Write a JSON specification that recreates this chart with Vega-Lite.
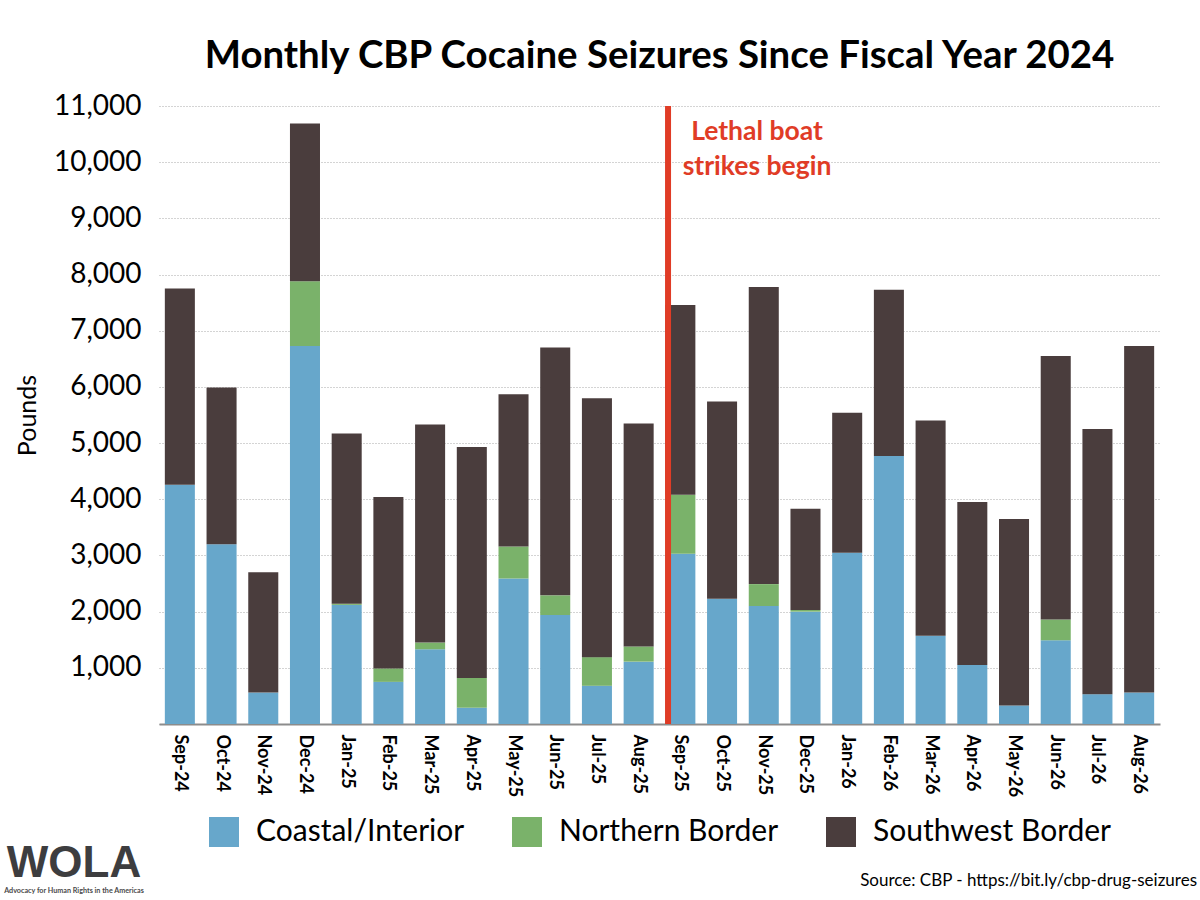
{
"$schema":"https://vega.github.io/schema/vega-lite/v6.json",
"width":1001,"height":618,
"autosize":{"type":"none"},
"padding":{"left":159,"top":106,"right":40,"bottom":176},
"background":"white",
"title":{"text":"Monthly CBP Cocaine Seizures Since Fiscal Year 2024","font":"Lato","fontSize":38.4,"fontWeight":"bold","color":"#000000","anchor":"middle","offset":16},
"config":{"view":{"stroke":null},"font":"Lato"},
"layer":[
{"layer":[
{"data":{"values":[
{"month":"Sep-24","series":"Coastal/Interior","pounds":4260},{"month":"Sep-24","series":"Northern Border","pounds":0},{"month":"Sep-24","series":"Southwest Border","pounds":3490},
{"month":"Oct-24","series":"Coastal/Interior","pounds":3200},{"month":"Oct-24","series":"Northern Border","pounds":0},{"month":"Oct-24","series":"Southwest Border","pounds":2790},
{"month":"Nov-24","series":"Coastal/Interior","pounds":560},{"month":"Nov-24","series":"Northern Border","pounds":0},{"month":"Nov-24","series":"Southwest Border","pounds":2140},
{"month":"Dec-24","series":"Coastal/Interior","pounds":6730},{"month":"Dec-24","series":"Northern Border","pounds":1150},{"month":"Dec-24","series":"Southwest Border","pounds":2810},
{"month":"Jan-25","series":"Coastal/Interior","pounds":2120},{"month":"Jan-25","series":"Northern Border","pounds":20},{"month":"Jan-25","series":"Southwest Border","pounds":3030},
{"month":"Feb-25","series":"Coastal/Interior","pounds":750},{"month":"Feb-25","series":"Northern Border","pounds":240},{"month":"Feb-25","series":"Southwest Border","pounds":3050},
{"month":"Mar-25","series":"Coastal/Interior","pounds":1330},{"month":"Mar-25","series":"Northern Border","pounds":120},{"month":"Mar-25","series":"Southwest Border","pounds":3880},
{"month":"Apr-25","series":"Coastal/Interior","pounds":290},{"month":"Apr-25","series":"Northern Border","pounds":530},{"month":"Apr-25","series":"Southwest Border","pounds":4110},
{"month":"May-25","series":"Coastal/Interior","pounds":2590},{"month":"May-25","series":"Northern Border","pounds":570},{"month":"May-25","series":"Southwest Border","pounds":2710},
{"month":"Jun-25","series":"Coastal/Interior","pounds":1940},{"month":"Jun-25","series":"Northern Border","pounds":350},{"month":"Jun-25","series":"Southwest Border","pounds":4410},
{"month":"Jul-25","series":"Coastal/Interior","pounds":680},{"month":"Jul-25","series":"Northern Border","pounds":510},{"month":"Jul-25","series":"Southwest Border","pounds":4610},
{"month":"Aug-25","series":"Coastal/Interior","pounds":1110},{"month":"Aug-25","series":"Northern Border","pounds":270},{"month":"Aug-25","series":"Southwest Border","pounds":3970},
{"month":"Sep-25","series":"Coastal/Interior","pounds":3030},{"month":"Sep-25","series":"Northern Border","pounds":1050},{"month":"Sep-25","series":"Southwest Border","pounds":3380},
{"month":"Oct-25","series":"Coastal/Interior","pounds":2230},{"month":"Oct-25","series":"Northern Border","pounds":0},{"month":"Oct-25","series":"Southwest Border","pounds":3510},
{"month":"Nov-25","series":"Coastal/Interior","pounds":2100},{"month":"Nov-25","series":"Northern Border","pounds":390},{"month":"Nov-25","series":"Southwest Border","pounds":5290},
{"month":"Dec-25","series":"Coastal/Interior","pounds":2000},{"month":"Dec-25","series":"Northern Border","pounds":30},{"month":"Dec-25","series":"Southwest Border","pounds":1800},
{"month":"Jan-26","series":"Coastal/Interior","pounds":3050},{"month":"Jan-26","series":"Northern Border","pounds":0},{"month":"Jan-26","series":"Southwest Border","pounds":2490},
{"month":"Feb-26","series":"Coastal/Interior","pounds":4770},{"month":"Feb-26","series":"Northern Border","pounds":0},{"month":"Feb-26","series":"Southwest Border","pounds":2960},
{"month":"Mar-26","series":"Coastal/Interior","pounds":1570},{"month":"Mar-26","series":"Northern Border","pounds":0},{"month":"Mar-26","series":"Southwest Border","pounds":3830},
{"month":"Apr-26","series":"Coastal/Interior","pounds":1050},{"month":"Apr-26","series":"Northern Border","pounds":0},{"month":"Apr-26","series":"Southwest Border","pounds":2900},
{"month":"May-26","series":"Coastal/Interior","pounds":330},{"month":"May-26","series":"Northern Border","pounds":0},{"month":"May-26","series":"Southwest Border","pounds":3320},
{"month":"Jun-26","series":"Coastal/Interior","pounds":1490},{"month":"Jun-26","series":"Northern Border","pounds":370},{"month":"Jun-26","series":"Southwest Border","pounds":4690},
{"month":"Jul-26","series":"Coastal/Interior","pounds":530},{"month":"Jul-26","series":"Northern Border","pounds":0},{"month":"Jul-26","series":"Southwest Border","pounds":4720},
{"month":"Aug-26","series":"Coastal/Interior","pounds":560},{"month":"Aug-26","series":"Northern Border","pounds":0},{"month":"Aug-26","series":"Southwest Border","pounds":6170}
]},
"mark":{"type":"bar"},
"encoding":{
"x":{"field":"month","type":"nominal","sort":null,"title":null,
 "scale":{"domain":["Sep-24","Oct-24","Nov-24","Dec-24","Jan-25","Feb-25","Mar-25","Apr-25","May-25","Jun-25","Jul-25","Aug-25","Sep-25","Oct-25","Nov-25","Dec-25","Jan-26","Feb-26","Mar-26","Apr-26","May-26","Jun-26","Jul-26","Aug-26"],"paddingInner":0.28,"paddingOuter":0.14},
 "axis":{"labelAngle":90,"labelAlign":"left","labelBaseline":"middle","labelFontSize":18,"labelFontWeight":"bold","labelColor":"#000000","labelPadding":10,"ticks":false,"domainColor":"#8c8c8c","domainWidth":2,"grid":false,"labelFont":"Lato"}},
"y":{"field":"pounds","type":"quantitative","stack":"zero",
 "scale":{"domain":[0,11000],"nice":false},
 "title":"Pounds",
 "axis":{"values":[0,1000,2000,3000,4000,5000,6000,7000,8000,9000,10000,11000],"labelExpr":"datum.value===0?'':format(datum.value,',')","labelFontSize":28,"labelColor":"#000000","labelPadding":18,"ticks":false,"domain":false,"grid":true,"gridColor":"#a8a8a8","gridDash":[1,2],"gridWidth":1,"titleFontSize":25,"titleFontWeight":"normal","titleColor":"#000000","titlePadding":13,"labelFont":"Lato","titleFont":"Lato"}},
"color":{"field":"series","type":"nominal","title":null,
 "scale":{"domain":["Coastal/Interior","Northern Border","Southwest Border"],"range":["#67A7CB","#7AB26A","#4A3D3D"]},
 "legend":{"orient":"none","legendX":50,"legendY":711,"direction":"horizontal","columns":3,"symbolType":"square","symbolSize":900,"symbolStrokeWidth":0,"symbolOpacity":1,"labelFontSize":30,"labelColor":"#000000","labelLimit":400,"labelOffset":17,"columnPadding":47,"labelFont":"Lato"}},
"order":{"field":"series","sort":"ascending"}
}},
{"data":{"values":[{"month":"Sep-25","from":0,"to":11000}]},
"mark":{"type":"rule","color":"#E03C26","strokeWidth":6},
"encoding":{
"x":{"field":"month","type":"nominal","bandPosition":0.09},
"y":{"field":"from","type":"quantitative","scale":{"domain":[0,11000],"nice":false}},
"y2":{"field":"to"}
}}
]},
{"data":{"values":[
{"pos":598,"level":10535,"note":"Lethal boat"},
{"pos":598,"level":9915,"note":"strikes begin"}
]},
"mark":{"type":"text","font":"Lato","fontSize":26.5,"fontWeight":"bold","color":"#E03C26","align":"center","baseline":"middle"},
"encoding":{
"x":{"field":"pos","type":"quantitative","scale":{"domain":[0,1001],"nice":false,"zero":false},"axis":null},
"y":{"field":"level","type":"quantitative","scale":{"domain":[0,11000],"nice":false}},
"text":{"field":"note"}
}},
{"data":{"values":[{"pos":1038,"level":-2795,"note":"Source: CBP - https://bit.ly/cbp-drug-seizures"}]},
"mark":{"type":"text","font":"Lato","fontSize":17,"color":"#000000","align":"right","baseline":"middle"},
"encoding":{
"x":{"field":"pos","type":"quantitative","scale":{"domain":[0,1001],"nice":false,"zero":false},"axis":null},
"y":{"field":"level","type":"quantitative","scale":{"domain":[0,11000],"nice":false}},
"text":{"field":"note"}
}},
{"data":{"values":[{"pos":-85,"level":-2490,"note":"WOLA"}]},
"mark":{"type":"text","font":"Liberation Sans","fontSize":44,"fontWeight":"bold","color":"#3d3d3f","align":"center","baseline":"middle"},
"encoding":{
"x":{"field":"pos","type":"quantitative","scale":{"domain":[0,1001],"nice":false,"zero":false},"axis":null},
"y":{"field":"level","type":"quantitative","scale":{"domain":[0,11000],"nice":false}},
"text":{"field":"note"}
}},
{"data":{"values":[{"pos":-85,"level":-2970,"note":"Advocacy for Human Rights in the Americas"}]},
"mark":{"type":"text","font":"Lato","fontSize":7.2,"fontWeight":"bold","color":"#4a4a4a","align":"center","baseline":"middle"},
"encoding":{
"x":{"field":"pos","type":"quantitative","scale":{"domain":[0,1001],"nice":false,"zero":false},"axis":null},
"y":{"field":"level","type":"quantitative","scale":{"domain":[0,11000],"nice":false}},
"text":{"field":"note"}
}}
],
"resolve":{"scale":{"x":"independent"}}
}
